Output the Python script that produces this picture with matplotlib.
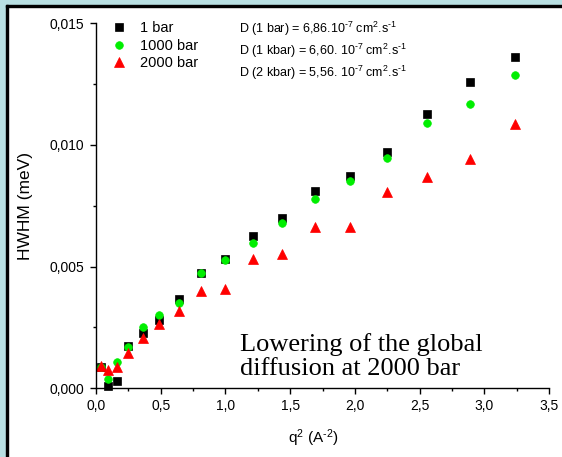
import numpy as np
import matplotlib
matplotlib.use('Agg')
import matplotlib.pyplot as plt
from matplotlib.ticker import MultipleLocator, FuncFormatter
from matplotlib.patches import Rectangle

plt.rcParams['font.family'] = ['Liberation Sans', 'DejaVu Sans']
plt.rcParams['mathtext.fontset'] = 'custom'
plt.rcParams['mathtext.rm'] = 'Liberation Sans'
plt.rcParams['mathtext.it'] = 'Liberation Sans'
plt.rcParams['mathtext.default'] = 'regular'

# q^2 values (A^-2)
q2 = [0.04, 0.09, 0.16, 0.25, 0.36, 0.49, 0.64, 0.81, 1.00, 1.21, 1.44,
      1.69, 1.96, 2.25, 2.56, 2.89, 3.24]
# HWHM (meV) for each pressure
hwhm_1bar = [0.00089, 0.00010, 0.00030, 0.00174, 0.00226, 0.00281, 0.00367,
             0.00473, 0.00530, 0.00626, 0.00698, 0.00811, 0.00872, 0.00970,
             0.01126, 0.01259, 0.01363]
hwhm_1000bar = [0.00088, 0.00037, 0.00109, 0.00170, 0.00250, 0.00301, 0.00349,
                0.00473, 0.00526, 0.00596, 0.00678, 0.00779, 0.00853, 0.00945,
                0.01090, 0.01167, 0.01288]
hwhm_2000bar = [0.00093, 0.00075, 0.00088, 0.00144, 0.00205, 0.00264, 0.00319,
                0.00401, 0.00408, 0.00530, 0.00551, 0.00664, 0.00662, 0.00807,
                0.00868, 0.00944, 0.01085]
labels = ['1 bar', '1000 bar', '2000 bar']
d_texts = [r'D (1 bar) = 6,86.10$^{\text{-}7}$ cm$^{2}$.s$^{\text{-}1}$',
           r'D (1 kbar) = 6,60. 10$^{\text{-}7}$ cm$^{2}$.s$^{\text{-}1}$',
           r'D (2 kbar) = 5,56. 10$^{\text{-}7}$ cm$^{2}$.s$^{\text{-}1}$']

W, H = 562, 457
fig = plt.figure(figsize=(W / 100, H / 100), dpi=100)
fig.patch.set_facecolor('white')

# light blue frame strips + black edge lines
blue = '#b8dfe2'
fig.patches.append(Rectangle((0, 1 - 5 / H), 1, 5 / H, transform=fig.transFigure, color=blue, zorder=0))
fig.patches.append(Rectangle((0, 0), 6 / W, 1, transform=fig.transFigure, color=blue, zorder=0))
fig.patches.append(Rectangle((6 / W, 1 - 7 / H), 1, 2 / H, transform=fig.transFigure, color='black', zorder=1))
fig.patches.append(Rectangle((6 / W, 0), 2 / W, 1 - 5 / H, transform=fig.transFigure, color='black', zorder=1))

ax = fig.add_axes([96 / W, 68.7 / H, 453 / W, 365 / H])
ax.plot(q2, hwhm_1bar, 's', color='black', ms=5.5, mew=0.5, label=labels[0], clip_on=False)
ax.plot(q2, hwhm_1000bar, 'o', color='#00ee00', ms=5.5, mew=0.5, label=labels[1], clip_on=False)
ax.plot(q2, hwhm_2000bar, '^', color='#ff0000', ms=6.5, mew=0.5, label=labels[2], clip_on=False)

ax.set_xlim(0, 3.5)
ax.set_ylim(0, 0.015)
ax.spines['top'].set_visible(False)
ax.spines['right'].set_visible(False)
for s in ['left', 'bottom']:
    ax.spines[s].set_linewidth(1.0)

ax.xaxis.set_major_locator(MultipleLocator(0.5))
ax.xaxis.set_minor_locator(MultipleLocator(0.25))
ax.yaxis.set_major_locator(MultipleLocator(0.005))
ax.yaxis.set_minor_locator(MultipleLocator(0.0025))
ax.xaxis.set_major_formatter(FuncFormatter(lambda v, p: f'{v:.1f}'.replace('.', ',')))
ax.yaxis.set_major_formatter(FuncFormatter(lambda v, p: f'{v:.3f}'.replace('.', ',')))
ax.tick_params(which='major', direction='out', length=4.5, width=1.0, labelsize=10, pad=3)
ax.tick_params(which='minor', direction='out', length=2.5, width=1.0)
ax.tick_params(axis='y', which='major', pad=4)

leg = ax.legend(loc='upper left', bbox_to_anchor=(0.0347, 1.005), frameon=False,
                fontsize=10.5, handlelength=1.0, handletextpad=0.94,
                labelspacing=0.22, borderpad=0, borderaxespad=0)

d_y = [0.9734, 0.9131, 0.8529]
for t, y in zip(d_texts, d_y):
    ax.text(0.3157, y, t, transform=ax.transAxes, fontsize=9, va='baseline', ha='left')

ax.text(0.318, 0.0364, 'Lowering of the global\ndiffusion at 2000 bar',
        transform=ax.transAxes, fontsize=19, family='Liberation Serif',
        va='baseline', ha='left', linespacing=1.1)

fig.text(26 / W, 1 - 206 / H, 'HWHM (meV)', rotation=90, ha='center', va='center', fontsize=12.5)
fig.text(313 / W, 1 - 438 / H, r'q$^{2}$ (A$^{\text{-}2}$)', ha='center', va='center', fontsize=11)

fig.savefig('out.png', dpi=100)
